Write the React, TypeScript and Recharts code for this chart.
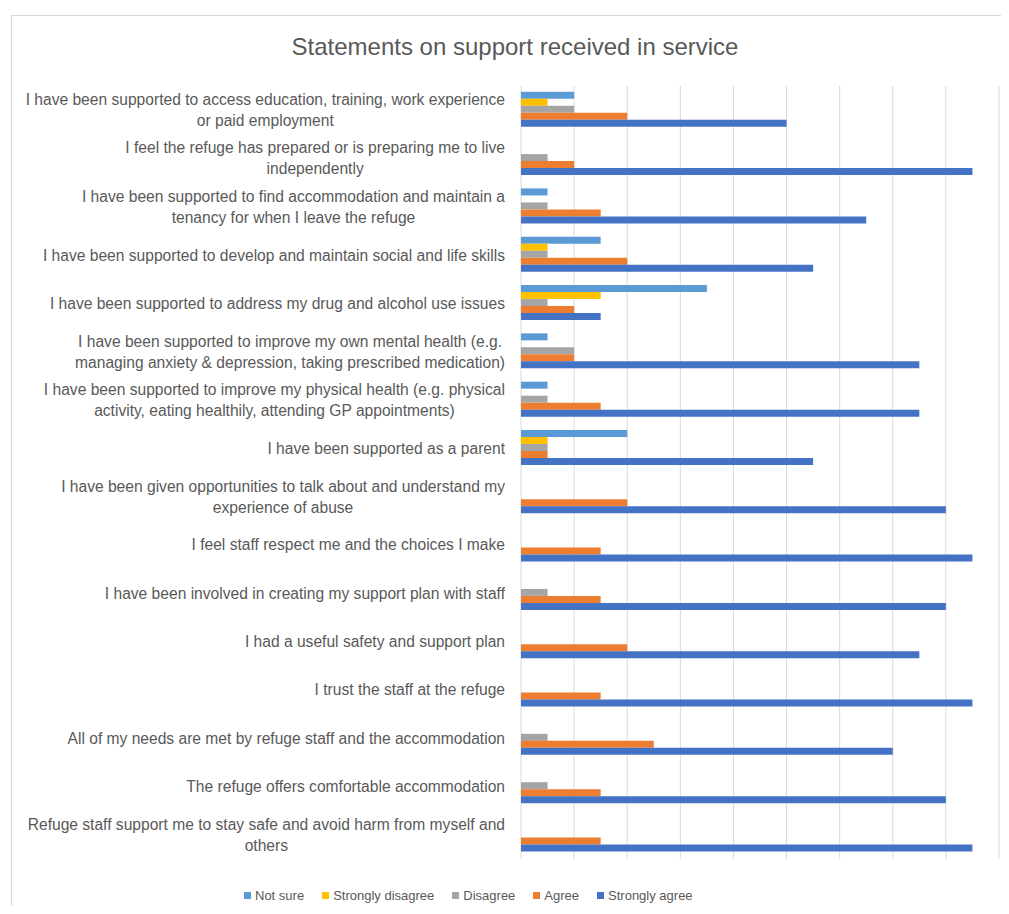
import React from 'react';
import { BarChart, Bar, XAxis, YAxis, CartesianGrid } from 'recharts';

const categories = [
  'I have been supported to access education, training, work experience\nor paid employment',
  'I feel the refuge has prepared or is preparing me to live\nindependently',
  'I have been supported to find accommodation and maintain a\ntenancy for when I leave the refuge',
  'I have been supported to develop and maintain social and life skills',
  'I have been supported to address my drug and alcohol use issues',
  'I have been supported to improve my own mental health (e.g.\nmanaging anxiety & depression, taking prescribed medication)',
  'I have been supported to improve my physical health (e.g. physical\nactivity, eating healthily, attending GP appointments)',
  'I have been supported as a parent',
  'I have been given opportunities to talk about and understand my\nexperience of abuse',
  'I feel staff respect me and the choices I make',
  'I have been involved in creating my support plan with staff',
  'I had a useful safety and support plan',
  'I trust the staff at the refuge',
  'All of my needs are met by refuge staff and the accommodation',
  'The refuge offers comfortable accommodation',
  'Refuge staff support me to stay safe and avoid harm from myself and\nothers',
];

const notSure = [2, 0, 1, 3, 7, 1, 1, 4, 0, 0, 0, 0, 0, 0, 0, 0];
const stronglyDisagree = [1, 0, 0, 1, 3, 0, 0, 1, 0, 0, 0, 0, 0, 0, 0, 0];
const disagree = [2, 1, 1, 1, 1, 2, 1, 1, 0, 0, 1, 0, 0, 1, 1, 0];
const agree = [4, 2, 3, 4, 2, 2, 3, 1, 4, 3, 3, 4, 3, 5, 3, 3];
const stronglyAgree = [10, 17, 13, 11, 3, 15, 15, 11, 16, 17, 16, 15, 17, 14, 16, 17];

const xTicks = [0, 2, 4, 6, 8, 10, 12, 14, 16, 18];

const series = [
  { key: 'notSure', name: 'Not sure', color: '#5B9BD5' },
  { key: 'stronglyDisagree', name: 'Strongly disagree', color: '#FFC000' },
  { key: 'disagree', name: 'Disagree', color: '#A5A5A5' },
  { key: 'agree', name: 'Agree', color: '#ED7D31' },
  { key: 'stronglyAgree', name: 'Strongly agree', color: '#4472C4' },
];

const data = categories.map((name, i) => ({
  name,
  notSure: notSure[i],
  stronglyDisagree: stronglyDisagree[i],
  disagree: disagree[i],
  agree: agree[i],
  stronglyAgree: stronglyAgree[i],
}));

const FONT = '"Liberation Sans", Arial, sans-serif';
const TEXT = '#595959';

const CategoryTick = (props: any) => {
  const { x, y, payload } = props;
  const lines: string[] = String(payload.value).split('\n');
  const lh = 21;
  const h = lines.length * lh;
  const w = 505;
  return (
    <foreignObject x={x - w} y={y - h / 2} width={w} height={h}>
      <div style={{ display: 'flex', justifyContent: 'flex-end', width: w }}>
        <div
          style={{
            textAlign: 'center',
            fontFamily: FONT,
            fontSize: 15.6,
            lineHeight: `${lh}px`,
            color: TEXT,
            whiteSpace: 'nowrap',
          }}
        >
          {lines.map((l, i) => (
            <div key={i}>{l}</div>
          ))}
        </div>
      </div>
    </foreignObject>
  );
};

const Legend = () => (
  <div
    style={{
      position: 'absolute',
      left: 232,
      top: 872,
      display: 'flex',
      fontFamily: FONT,
      fontSize: 13,
      color: TEXT,
      alignItems: 'center',
      whiteSpace: 'nowrap',
    }}
  >
    {series.map((s) => (
      <div key={s.key} style={{ display: 'flex', alignItems: 'center', marginRight: 18 }}>
        <span style={{ width: 7, height: 7, background: s.color, marginRight: 4, display: 'inline-block' }} />
        <span>{s.name}</span>
      </div>
    ))}
  </div>
);

export default function App() {
  return (
    <div style={{ position: 'relative', width: 993, height: 898 }}>
      <div
        style={{
          position: 'absolute',
          left: 3,
          top: 7,
          width: 997,
          height: 899,
          boxSizing: 'border-box',
          borderTop: '1px solid #d9d9d9',
          borderLeft: '1px solid #d9d9d9',
          background: '#fff',
        }}
      >
        <div
          style={{
            position: 'absolute',
            left: 0,
            width: 1006,
            top: 17,
            textAlign: 'center',
            fontFamily: FONT,
            fontSize: 24,
            color: TEXT,
          }}
        >
          Statements on support received in service
        </div>
        <div style={{ position: 'absolute', left: 0, top: 0 }}>
          <BarChart
            width={995}
            height={898}
            data={data}
            layout="vertical"
            margin={{ top: 70, right: 8, left: 9, bottom: 55 }}
            barCategoryGap="12%"
            barGap={0}
          >
            <CartesianGrid horizontal={false} stroke="#d9d9d9" strokeWidth={1} />
            <XAxis
              type="number"
              domain={[0, 18]}
              ticks={xTicks}
              tick={() => <g />}
              axisLine={false}
              tickLine={false}
              height={0}
            />
            <YAxis
              type="category"
              dataKey="name"
              width={500}
              tick={<CategoryTick />}
              tickSize={0}
              tickMargin={16}
              axisLine={false}
              tickLine={false}
              interval={0}
            />
            {series.map((s) => (
              <Bar key={s.key} dataKey={s.key} name={s.name} fill={s.color} isAnimationActive={false} />
            ))}
          </BarChart>
        </div>
        <Legend />
      </div>
    </div>
  );
}
